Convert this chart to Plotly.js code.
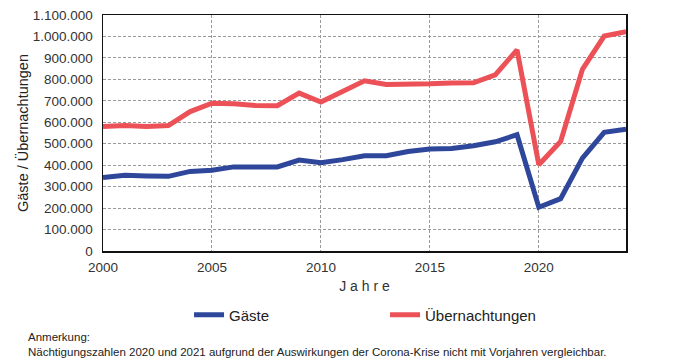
<!DOCTYPE html>
<html>
<head>
<meta charset="utf-8">
<script src="https://cdn.plot.ly/plotly-3.0.1.min.js"></script>
<style>html,body{margin:0;padding:0;background:#fff;}#chart{width:682px;height:363px;}</style>
</head>
<body>
<div id="chart"></div>
<script>
const years = [2000,2001,2002,2003,2004,2005,2006,2007,2008,2009,2010,2011,2012,2013,2014,2015,2016,2017,2018,2019,2020,2021,2022,2023,2024];
const gaeste = [343000,353000,350000,348000,371000,376000,392000,392000,392000,424000,411000,426000,444000,444000,464000,475000,478000,491000,509000,542000,204000,244000,433000,553000,568000];
const uebernachtungen = [580000,585000,580000,585000,650000,689000,686000,678000,677000,736000,694000,743000,793000,776000,776000,779000,783000,784000,821000,937000,402000,511000,847000,1002000,1022000];
const yTicks = [0,100000,200000,300000,400000,500000,600000,700000,800000,900000,1000000,1100000];
const xTicks = [2000,2005,2010,2015,2020];

const font = "Liberation Sans, Arial, sans-serif";
const traces = [
  {x: years, y: gaeste, name: 'Gäste', type: 'scatter', mode: 'lines',
   line: {color: '#2f479b', width: 5}},
  {x: years, y: uebernachtungen, name: 'Übernachtungen', type: 'scatter', mode: 'lines',
   line: {color: '#ec5157', width: 5}}
];
const layout = {
  width: 682, height: 363,
  margin: {l: 103, r: 56, t: 15, b: 112},
  paper_bgcolor: '#fff', plot_bgcolor: '#fff',
  separators: ',.',
  font: {family: font, color: '#333', size: 13},
  showlegend: true,
  legend: {orientation: 'h', x: 0.1645, y: -0.271, xanchor: 'left', yanchor: 'middle',
           entrywidth: 151, entrywidthmode: 'pixels',
           font: {family: font, size: 15, color: '#222'}},
  xaxis: {range: [2000, 2024], tickvals: xTicks, ticks: '', showline: true, mirror: true,
          linecolor: '#111', linewidth: 1.5, showgrid: true, gridcolor: '#999',
          griddash: '3px,2px', gridwidth: 1, zeroline: false, ticklabelstandoff: 3,
          tickfont: {family: font, size: 13.5, color: '#333'},
          title: {text: 'J a h r e', font: {family: font, size: 14, color: '#333'}, standoff: 7}},
  yaxis: {range: [0, 1100000], tickvals: yTicks, tickformat: ',d', ticks: '', showline: true, mirror: true,
          linecolor: '#111', linewidth: 1.5, showgrid: true, gridcolor: '#999',
          griddash: '3px,2px', gridwidth: 1, zeroline: false, ticklabelstandoff: 6,
          tickfont: {family: font, size: 13.5, color: '#333'},
          title: {text: 'Gäste / Übernachtungen', font: {family: font, size: 14.5, color: '#222'}, standoff: 0}},
  annotations: [
    {text: 'Anmerkung:', xref: 'paper', yref: 'paper', x: -0.147, y: -0.364, xanchor: 'left', yanchor: 'middle',
     showarrow: false, font: {family: font, size: 11.5, color: '#222'}},
    {text: 'Nächtigungszahlen 2020 und 2021 aufgrund der Auswirkungen der Corona-Krise nicht mit Vorjahren vergleichbar.',
     xref: 'paper', yref: 'paper', x: -0.147, y: -0.428, xanchor: 'left', yanchor: 'middle',
     showarrow: false, font: {family: font, size: 11.5, color: '#222'}}
  ]
};
Plotly.newPlot('chart', traces, layout, {displayModeBar: false, staticPlot: true});
</script>
</body>
</html>
